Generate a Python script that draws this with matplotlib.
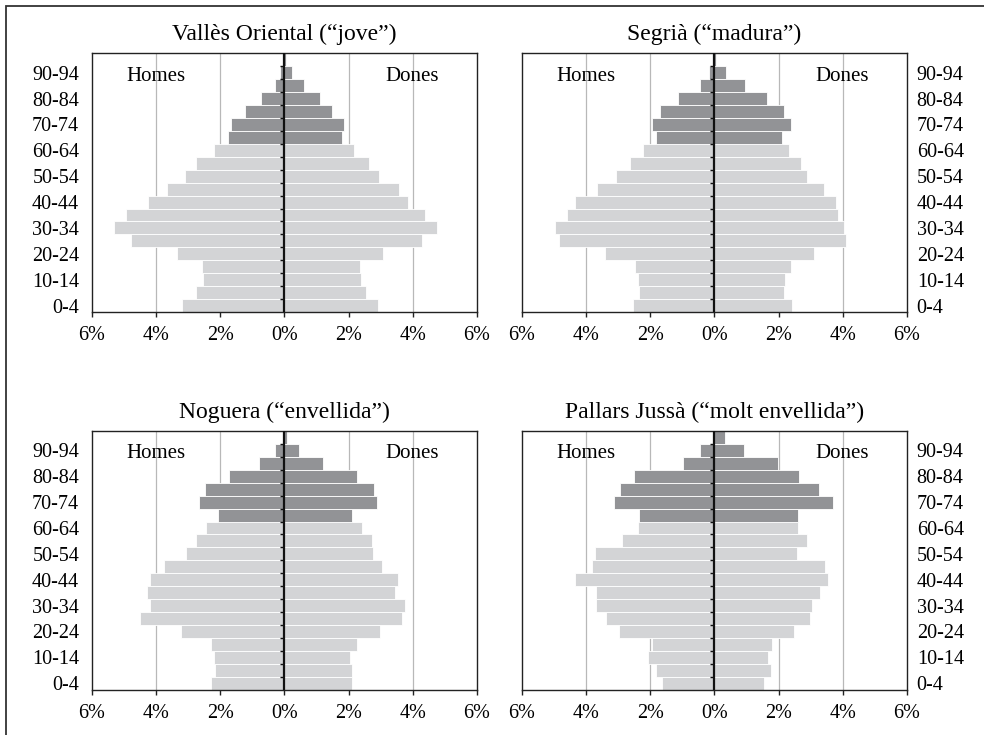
import numpy as np
import matplotlib
matplotlib.use("Agg")
import matplotlib.pyplot as plt
from matplotlib.patches import Rectangle

plt.rcParams['font.family'] = ['Liberation Serif', 'DejaVu Serif']

age_groups = ["0-4", "5-9", "10-14", "15-19", "20-24", "25-29", "30-34", "35-39",
              "40-44", "45-49", "50-54", "55-59", "60-64", "65-69", "70-74",
              "75-79", "80-84", "85-89", "90-94", "95+"]

titles = ["Vallès Oriental (“jove”)", "Segrià (“madura”)",
          "Noguera (“envellida”)", "Pallars Jussà (“molt envellida”)"]

valles_homes = [3.19, 2.76, 2.54, 2.58, 3.33, 4.79, 5.30, 4.94, 4.25, 3.66,
                3.10, 2.76, 2.18, 1.75, 1.65, 1.21, 0.74, 0.28, 0.13, 0.02]
valles_dones = [2.92, 2.53, 2.38, 2.35, 3.06, 4.28, 4.74, 4.39, 3.85, 3.57,
                2.96, 2.63, 2.16, 1.81, 1.85, 1.49, 1.10, 0.61, 0.24, 0.04]

segria_homes = [2.52, 2.35, 2.38, 2.48, 3.41, 4.83, 4.97, 4.58, 4.33, 3.65,
                3.05, 2.62, 2.22, 1.81, 1.94, 1.69, 1.12, 0.46, 0.17, 0.03]
segria_dones = [2.41, 2.17, 2.19, 2.38, 3.09, 4.10, 4.05, 3.84, 3.79, 3.41,
                2.88, 2.69, 2.31, 2.10, 2.38, 2.17, 1.63, 0.97, 0.35, 0.05]

noguera_homes = [2.30, 2.16, 2.19, 2.29, 3.21, 4.51, 4.19, 4.29, 4.19, 3.75,
                 3.07, 2.76, 2.44, 2.07, 2.65, 2.47, 1.73, 0.80, 0.29, 0.02]
noguera_dones = [2.11, 2.11, 2.04, 2.26, 2.97, 3.65, 3.76, 3.44, 3.54, 3.04,
                 2.76, 2.72, 2.43, 2.11, 2.90, 2.79, 2.26, 1.19, 0.47, 0.08]

pallars_homes = [1.63, 1.82, 2.06, 1.95, 2.98, 3.37, 3.70, 3.70, 4.33, 3.80,
                 3.72, 2.87, 2.38, 2.35, 3.13, 2.95, 2.51, 0.99, 0.46, 0.02]
pallars_dones = [1.56, 1.77, 1.66, 1.80, 2.47, 2.97, 3.04, 3.30, 3.54, 3.44,
                 2.58, 2.87, 2.61, 2.61, 3.69, 3.26, 2.65, 1.97, 0.91, 0.34]

x_ticks = [-6, -4, -2, 0, 2, 4, 6]
x_tick_labels = ["6%", "4%", "2%", "0%", "2%", "4%", "6%"]

panels = [(valles_homes, valles_dones), (segria_homes, segria_dones),
          (noguera_homes, noguera_dones), (pallars_homes, pallars_dones)]

LIGHT = "#d3d4d6"
DARK = "#929396"
old_start = age_groups.index("65-69")

fig = plt.figure(figsize=(9.84, 7.35), dpi=100)
W, H = 984, 735
boxes = [(91.7, 53.3), (521.7, 53.3), (91.7, 431), (521.7, 431)]
aw, ah = 385.3, 258.7

for i, ((homes, dones), title, (lx, ty)) in enumerate(zip(panels, titles, boxes)):
    ax = fig.add_axes([lx / W, 1 - (ty + ah) / H, aw / W, ah / H])
    y = np.arange(len(age_groups))
    colors = [DARK if k >= old_start else LIGHT for k in range(len(age_groups))]
    ax.barh(y, -np.array(homes), height=1.0, color=colors, edgecolor="white",
            linewidth=0.6, zorder=2)
    ax.barh(y, np.array(dones), height=1.0, color=colors, edgecolor="white",
            linewidth=0.6, zorder=2)
    for gx in [-4, -2, 2, 4]:
        ax.axvline(gx, color="#b8b8b8", linewidth=0.9, zorder=1)
    ax.axvline(0, color="#111111", linewidth=1.6, zorder=4)
    # small ticks on the centre line between age groups
    ax.hlines(y[1:] - 0.5, -0.13, 0, color="#111111", linewidth=1.0, zorder=4)
    ax.set_xlim(-6, 6)
    ax.set_ylim(-0.5, len(age_groups) - 0.5)
    ax.set_xticks(x_ticks)
    ax.set_xticklabels(x_tick_labels, fontsize=14.5)
    ax.tick_params(axis='x', length=3.5, width=1, color="#222222", pad=6.5)
    ax.set_yticks(y[::2][:10])
    ax.set_yticklabels(age_groups[::2][:10], fontsize=14.5)
    ax.tick_params(axis='y', length=0, pad=9)
    if i % 2 == 1:
        ax.yaxis.tick_right()
        ax.tick_params(axis='y', length=0, pad=7)
    for s in ax.spines.values():
        s.set_color("#222222")
        s.set_linewidth(1.0)
    ax.set_title(title, fontsize=17, pad=9.5)
    ax.text(0.09, 0.912, "Homes", transform=ax.transAxes, fontsize=15,
            ha="left", va="center", zorder=5)
    ax.text(0.90, 0.912, "Dones", transform=ax.transAxes, fontsize=15,
            ha="right", va="center", zorder=5)

border = Rectangle((6 / W, -0.05), 1.2, 1.05 - 6 / H, transform=fig.transFigure,
                   fill=False, edgecolor="#333333", linewidth=1.3, clip_on=False)
fig.patches.append(border)

fig.savefig("out.png", dpi=100, facecolor="white")
